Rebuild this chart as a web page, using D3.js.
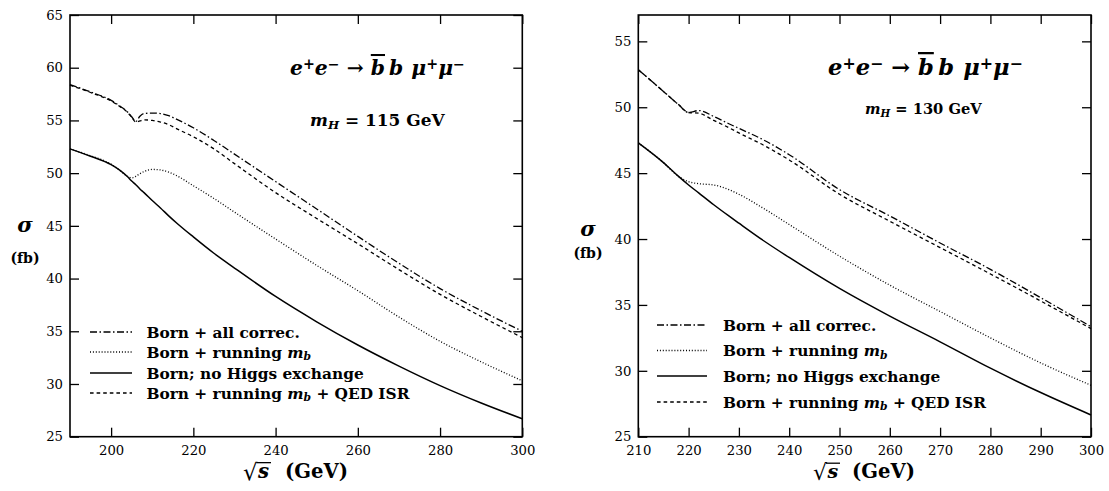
<!DOCTYPE html>
<html>
<head>
<meta charset="utf-8">
<script src="https://cdn.jsdelivr.net/npm/d3@7"></script>
<style>
  body { margin: 0; background: #fff; }
  svg text { font-family: "DejaVu Serif", serif; fill: #000; }
</style>
</head>
<body>
<svg id="chart" width="1109" height="491"></svg>
<script>
// ---- Cross sections sigma (fb) versus sqrt(s) (GeV) ----
// Left panel: m_H = 115 GeV
const sqrtsLeft   = [190,195,200,202,204,205,206,207,208,210,212,214,216,220,225,230,240,250,260,270,280,290,300];
const allCorrLeft = [58.4,57.7,56.9,56.4,55.8,55.35,54.9,55.4,55.65,55.7,55.65,55.45,55.1,54.3,53.1,51.8,49.2,46.6,44.0,41.45,39.05,36.95,35.0];
const runMbLeft   = [52.3,51.65,50.85,50.3,49.7,49.55,49.7,49.95,50.15,50.35,50.3,50.1,49.75,48.8,47.6,46.3,43.75,41.25,38.85,36.35,34.05,32.1,30.3];
const noHiggsLeft = [52.3,51.6,50.8,50.3,49.65,49.25,48.9,48.5,48.15,47.4,46.7,45.95,45.25,43.95,42.4,41.0,38.3,35.9,33.7,31.7,29.85,28.2,26.7];
const isrLeft     = [58.35,57.65,56.85,56.35,55.75,55.3,54.85,54.95,55.05,55.0,54.85,54.6,54.2,53.45,52.3,50.9,48.15,45.7,43.3,40.85,38.5,36.4,34.4];

// Right panel: m_H = 130 GeV
const sqrtsRight   = [210,215,218,220,222,225,228,230,235,240,250,260,270,280,290,300];
const allCorrRight = [52.85,51.2,50.2,49.6,49.75,49.3,48.75,48.4,47.5,46.4,43.75,41.75,39.7,37.7,35.55,33.35];
const runMbRight   = [47.3,45.8,44.75,44.35,44.2,44.1,43.75,43.4,42.3,41.1,38.7,36.5,34.5,32.5,30.6,28.9];
const noHiggsRight = [47.3,45.8,44.75,44.1,43.5,42.6,41.75,41.2,39.85,38.6,36.25,34.15,32.2,30.2,28.35,26.65];
const isrRight     = [52.85,51.2,50.2,49.6,49.55,49.0,48.45,48.05,47.1,46.0,43.4,41.35,39.35,37.35,35.3,33.2];

// Axis ticks
const xTicksLeft  = [200,220,240,260,280,300];
const yTicksLeft  = [25,30,35,40,45,50,55,60,65];
const xTicksRight = [210,220,230,240,250,260,270,280,290,300];
const yTicksRight = [25,30,35,40,45,50,55];

// Higgs masses shown in the panels
const higgsMasses = ["115", "130"];

// Series order as listed in the legend
const seriesKeys = ["allCorr", "runMb", "noHiggs", "isr"];
const dashes = { allCorr: "7,2.5,1.5,2.5", runMb: "1,1.9", noHiggs: null, isr: "3.6,3" };
const widths = { allCorr: 1.3, runMb: 1.3, noHiggs: 1.5, isr: 1.3 };

const svg = d3.select("#chart");

const panels = [
  {
    x: sqrtsLeft,
    series: { allCorr: allCorrLeft, runMb: runMbLeft, noHiggs: noHiggsLeft, isr: isrLeft },
    xDomain: [190, 300], yDomain: [25, 65], xTicks: xTicksLeft, yTicks: yTicksLeft,
    box: { l: 70, r: 522.3, t: 15, b: 436.7 },
    mH: higgsMasses[0],
    title: { x: 290, y: 75, w: 175 }, mass: { x: 310, y: 126, w: 135 },
    legend: { x0: 90, x1: 132, tx: 146.5, rows: [332, 352, 373, 393], w2: 208, w3: 275 },
    sigma: { x: 25, y: 232 }, fb: { x: 25, y: 263 },
    xlab: { x: 243, sEnd: 271, gevX: 285, gevEnd: 348, y: 478 }
  },
  {
    x: sqrtsRight,
    series: { allCorr: allCorrRight, runMb: runMbRight, noHiggs: noHiggsRight, isr: isrRight },
    xDomain: [210, 300], yDomain: [25, 57], xTicks: xTicksRight, yTicks: yTicksRight,
    box: { l: 638.3, r: 1091, t: 15, b: 436.7 },
    mH: higgsMasses[1],
    title: { x: 828, y: 75, w: 195 }, mass: { x: 865, y: 114, w: 117 },
    legend: { x0: 657, x1: 707, tx: 723, rows: [325, 350.5, 376, 402], w2: 208, w3: 275 },
    sigma: { x: 588, y: 236 }, fb: { x: 588, y: 258 },
    xlab: { x: 813, sEnd: 840, gevX: 852, gevEnd: 915, y: 478 }
  }
];

// font size that makes a text element span the given width
function sizeFor(sel, target) {
  const fs = +sel.attr("font-size");
  const w = sel.node().getBBox().width;
  return w > 0 ? fs * target / w : fs;
}
function fitWidth(sel, target) {
  const nfs = sizeFor(sel, target);
  sel.attr("font-size", nfs);
  return nfs;
}

function addSeg(text, parts) {
  parts.forEach(p => {
    const t = text.append("tspan").text(p.t);
    if (p.italic) t.attr("font-style", "italic");
    if (p.dy) t.attr("dy", p.dy + "em");
    if (p.size) t.style("font-size", p.size + "em");
    if (p.over) t.style("text-decoration", "overline");
  });
}

function legendParts(key) {
  const mb = [{ t: "m", italic: true }, { t: "b", italic: true, dy: 0.25, size: 0.7 }];
  if (key === "allCorr") return [{ t: "Born + all correc." }];
  if (key === "runMb") return [{ t: "Born + running " }].concat(mb);
  if (key === "noHiggs") return [{ t: "Born; no Higgs exchange" }];
  return [{ t: "Born + running " }].concat(mb).concat([{ t: " + QED ISR", dy: -0.175 }]);
}

panels.forEach(p => {
  const { l, r, t, b } = p.box;
  const x = d3.scaleLinear().domain(p.xDomain).range([l, r]);
  const y = d3.scaleLinear().domain(p.yDomain).range([b, t]);
  const g = svg.append("g");

  // ticks pointing inward on all four sides
  const tick = 9;
  const axes = [
    { a: d3.axisBottom(x).tickValues(p.xTicks).tickSizeInner(-tick).tickSizeOuter(0).tickPadding(9).tickFormat(d3.format("d")), tr: `translate(0,${b})` },
    { a: d3.axisTop(x).tickValues(p.xTicks).tickSizeInner(-tick).tickSizeOuter(0).tickFormat(""), tr: `translate(0,${t})` },
    { a: d3.axisLeft(y).tickValues(p.yTicks).tickSizeInner(-tick).tickSizeOuter(0).tickPadding(7).tickFormat(d3.format("d")), tr: `translate(${l},0)` },
    { a: d3.axisRight(y).tickValues(p.yTicks).tickSizeInner(-tick).tickSizeOuter(0).tickFormat(""), tr: `translate(${r},0)` }
  ];
  axes.forEach(ax => {
    const ag = g.append("g").attr("transform", ax.tr).call(ax.a);
    ag.select(".domain").remove();
    ag.selectAll(".tick line").attr("stroke", "#000").attr("stroke-width", 1.3);
    ag.selectAll(".tick text").attr("font-size", 13.2).attr("fill", "#000");
  });

  // curves
  const line = d3.line().x(d => x(d[0])).y(d => y(d[1])).curve(d3.curveMonotoneX);
  seriesKeys.forEach(k => {
    const pts = p.x.map((s, i) => [s, p.series[k][i]]);
    g.append("path")
      .attr("d", line(pts))
      .attr("fill", "none")
      .attr("stroke", "#000")
      .attr("stroke-width", widths[k])
      .attr("stroke-dasharray", dashes[k]);
  });

  // frame
  g.append("rect").attr("x", l).attr("y", t).attr("width", r - l).attr("height", b - t)
    .attr("fill", "none").attr("stroke", "#000").attr("stroke-width", 1.6);

  // process label
  const title = g.append("text").attr("x", p.title.x).attr("y", p.title.y)
    .attr("font-size", 17).attr("font-weight", "bold").attr("font-style", "italic");
  addSeg(title, [
    { t: "e" }, { t: "+", dy: -0.4, size: 0.7 }, { t: "e", dy: 0.28 }, { t: "\u2212", dy: -0.4, size: 0.7 },
    { t: " \u2192 ", dy: 0.28 }, { t: "b", over: true }, { t: "\u2009b\u2009\u2009" }, { t: "\u03bc" },
    { t: "+", dy: -0.4, size: 0.7 }, { t: "\u03bc", dy: 0.28 }, { t: "\u2212", dy: -0.4, size: 0.7 }
  ]);
  fitWidth(title, p.title.w);

  // Higgs mass label
  const mass = g.append("text").attr("x", p.mass.x).attr("y", p.mass.y)
    .attr("font-size", 15).attr("font-weight", "bold");
  addSeg(mass, [
    { t: "m", italic: true }, { t: "H", italic: true, dy: 0.25, size: 0.7 },
    { t: " = " + p.mH + "  GeV", dy: -0.175 }
  ]);
  fitWidth(mass, p.mass.w);

  // legend: one font size for all rows
  const legTexts = seriesKeys.map((k, i) => {
    const yy = p.legend.rows[i];
    g.append("line").attr("x1", p.legend.x0).attr("x2", p.legend.x1).attr("y1", yy).attr("y2", yy)
      .attr("stroke", "#000").attr("stroke-width", widths[k]).attr("stroke-dasharray", dashes[k]);
    const tx = g.append("text").attr("x", p.legend.tx).attr("y", yy + 5.5)
      .attr("font-size", 15).attr("font-weight", "bold");
    addSeg(tx, legendParts(k));
    return tx;
  });
  const legSize = (sizeFor(legTexts[2], p.legend.w2) + sizeFor(legTexts[3], p.legend.w3)) / 2;
  legTexts.forEach(tx => tx.attr("font-size", legSize));

  // y-axis title
  g.append("text").attr("x", p.sigma.x).attr("y", p.sigma.y).attr("text-anchor", "middle")
    .attr("font-size", 21).attr("font-weight", "bold").attr("font-style", "italic").text("\u03c3");
  g.append("text").attr("x", p.fb.x).attr("y", p.fb.y).attr("text-anchor", "middle")
    .attr("font-size", 14).attr("font-weight", "bold").text("(fb)");

  // x-axis title: sqrt(s) (GeV)
  const xl = g.append("g");
  const root = xl.append("g");
  const rad = root.append("text").attr("x", 0).attr("y", 2).attr("font-size", 22).text("\u221a");
  const rb = rad.node().getBBox();
  const sx = rb.x + rb.width - 1.5;
  const sTxt = root.append("text").attr("x", sx + 1).attr("y", 0)
    .attr("font-size", 19).attr("font-weight", "bold").attr("font-style", "italic").text("s");
  const sb = sTxt.node().getBBox();
  const bar = root.append("line").attr("x1", sx - 0.5).attr("x2", sb.x + sb.width + 1.5)
    .attr("y1", rb.y + 3.2).attr("y2", rb.y + 3.2).attr("stroke", "#000").attr("stroke-width", 1.3);
  const rootW = sb.x + sb.width + 1.5 - rb.x;
  const k = (p.xlab.sEnd - p.xlab.x) / rootW;
  bar.attr("stroke-width", 1.3 / k);
  root.attr("transform", `translate(${p.xlab.x - rb.x * k},${p.xlab.y}) scale(${k})`);
  const gev = xl.append("text").attr("x", p.xlab.gevX).attr("y", p.xlab.y)
    .attr("font-size", 16).attr("font-weight", "bold").text("(GeV)");
  fitWidth(gev, p.xlab.gevEnd - p.xlab.gevX);
});
</script>
</body>
</html>
